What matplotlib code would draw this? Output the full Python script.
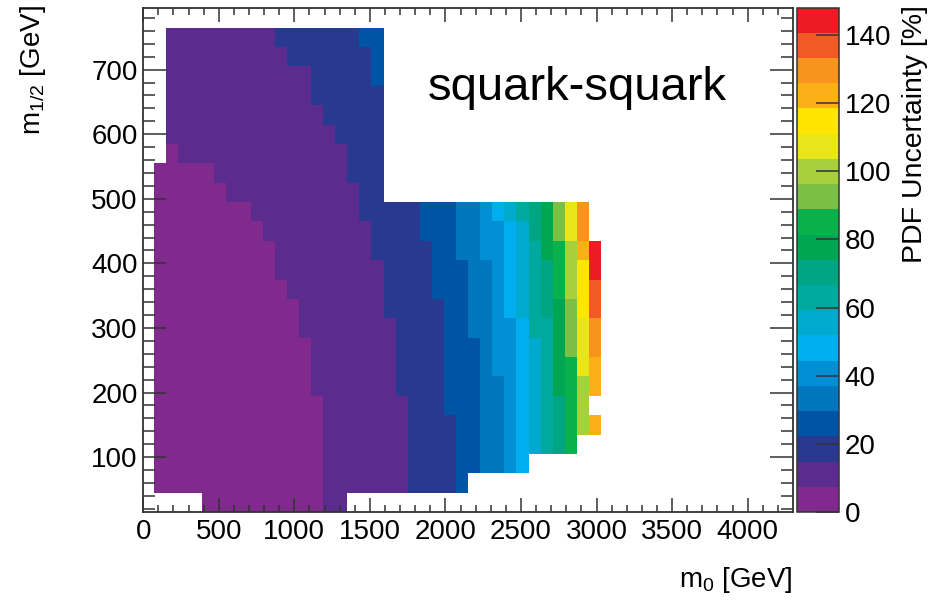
import numpy as np
import matplotlib
matplotlib.use("Agg")
from matplotlib import pyplot as plt
from matplotlib.colors import ListedColormap, BoundaryNorm

plt.rcParams['font.family'] = ['Liberation Sans', 'DejaVu Sans']
plt.rcParams['mathtext.fontset'] = 'custom'
plt.rcParams['mathtext.rm'] = 'Liberation Sans'
plt.rcParams['mathtext.it'] = 'Liberation Sans:italic'

# bin edges of the scan (GeV)
m0_edges = np.arange(70, 3040, 80)
m12_edges = np.arange(15, 780, 30)

# PDF uncertainty [%] per cell, rows from m1/2 = 750 (top) down to 30 (bottom)
n = np.nan
pdf_unc = [
    [n, 11, 11, 11, 11, 11, 11, 11, 11, 11, 18, 18, 18, 18, 18, 18, 18, 26, 26, n, n, n, n, n, n, n, n, n, n, n, n, n, n, n, n, n, n],
    [n, 11, 11, 11, 11, 11, 11, 11, 11, 11, 11, 18, 18, 18, 18, 18, 18, 18, 26, n, n, n, n, n, n, n, n, n, n, n, n, n, n, n, n, n, n],
    [n, 11, 11, 11, 11, 11, 11, 11, 11, 11, 11, 11, 11, 18, 18, 18, 18, 18, 26, n, n, n, n, n, n, n, n, n, n, n, n, n, n, n, n, n, n],
    [n, 11, 11, 11, 11, 11, 11, 11, 11, 11, 11, 11, 11, 18, 18, 18, 18, 18, 18, n, n, n, n, n, n, n, n, n, n, n, n, n, n, n, n, n, n],
    [n, 11, 11, 11, 11, 11, 11, 11, 11, 11, 11, 11, 11, 11, 18, 18, 18, 18, 18, n, n, n, n, n, n, n, n, n, n, n, n, n, n, n, n, n, n],
    [n, 11, 11, 11, 11, 11, 11, 11, 11, 11, 11, 11, 11, 11, 11, 18, 18, 18, 18, n, n, n, n, n, n, n, n, n, n, n, n, n, n, n, n, n, n],
    [n, 4, 11, 11, 11, 11, 11, 11, 11, 11, 11, 11, 11, 11, 11, 11, 18, 18, 18, n, n, n, n, n, n, n, n, n, n, n, n, n, n, n, n, n, n],
    [4, 4, 4, 4, 4, 11, 11, 11, 11, 11, 11, 11, 11, 11, 11, 11, 18, 18, 18, n, n, n, n, n, n, n, n, n, n, n, n, n, n, n, n, n, n],
    [4, 4, 4, 4, 4, 4, 11, 11, 11, 11, 11, 11, 11, 11, 11, 11, 11, 18, 18, n, n, n, n, n, n, n, n, n, n, n, n, n, n, n, n, n, n],
    [4, 4, 4, 4, 4, 4, 4, 4, 11, 11, 11, 11, 11, 11, 11, 11, 11, 18, 18, 18, 18, 18, 26, 26, 26, 33, 33, 41, 48, 56, 63, 70, 78, 92, 107, 130, n],
    [4, 4, 4, 4, 4, 4, 4, 4, 4, 11, 11, 11, 11, 11, 11, 11, 11, 11, 18, 18, 18, 18, 26, 26, 26, 33, 33, 41, 41, 48, 56, 70, 78, 92, 107, 130, n],
    [4, 4, 4, 4, 4, 4, 4, 4, 4, 4, 11, 11, 11, 11, 11, 11, 11, 11, 18, 18, 18, 18, 18, 26, 26, 33, 33, 41, 41, 48, 56, 63, 78, 85, 100, 122, 144],
    [4, 4, 4, 4, 4, 4, 4, 4, 4, 4, 11, 11, 11, 11, 11, 11, 11, 11, 11, 18, 18, 18, 18, 26, 26, 26, 33, 33, 41, 48, 56, 63, 70, 85, 100, 115, 144],
    [4, 4, 4, 4, 4, 4, 4, 4, 4, 4, 4, 11, 11, 11, 11, 11, 11, 11, 11, 18, 18, 18, 18, 26, 26, 26, 33, 33, 41, 48, 56, 63, 70, 85, 100, 115, 137],
    [4, 4, 4, 4, 4, 4, 4, 4, 4, 4, 4, 4, 11, 11, 11, 11, 11, 11, 11, 18, 18, 18, 18, 18, 26, 26, 33, 33, 41, 48, 56, 63, 70, 78, 92, 115, 137],
    [4, 4, 4, 4, 4, 4, 4, 4, 4, 4, 4, 4, 11, 11, 11, 11, 11, 11, 11, 11, 18, 18, 18, 18, 26, 26, 33, 33, 41, 41, 48, 63, 63, 78, 92, 107, 130],
    [4, 4, 4, 4, 4, 4, 4, 4, 4, 4, 4, 4, 4, 11, 11, 11, 11, 11, 11, 11, 18, 18, 18, 18, 26, 26, 26, 33, 41, 41, 48, 56, 63, 78, 92, 107, 130],
    [4, 4, 4, 4, 4, 4, 4, 4, 4, 4, 4, 4, 4, 11, 11, 11, 11, 11, 11, 11, 18, 18, 18, 18, 26, 26, 26, 33, 41, 41, 48, 56, 63, 78, 85, 107, 122],
    [4, 4, 4, 4, 4, 4, 4, 4, 4, 4, 4, 4, 4, 11, 11, 11, 11, 11, 11, 11, 18, 18, 18, 18, 26, 26, 26, 33, 33, 41, 48, 56, 63, 78, 85, 100, 122],
    [4, 4, 4, 4, 4, 4, 4, 4, 4, 4, 4, 4, 4, 4, 11, 11, 11, 11, 11, 11, 11, 18, 18, 18, 26, 26, 26, 33, 33, 41, 48, 56, 63, 70, 85, 100, n],
    [4, 4, 4, 4, 4, 4, 4, 4, 4, 4, 4, 4, 4, 4, 11, 11, 11, 11, 11, 11, 11, 18, 18, 18, 18, 26, 26, 33, 33, 41, 48, 56, 63, 70, 85, 100, 122],
    [4, 4, 4, 4, 4, 4, 4, 4, 4, 4, 4, 4, 4, 4, 11, 11, 11, 11, 11, 11, 11, 18, 18, 18, 18, 26, 26, 33, 33, 41, 48, 56, 63, 70, 85, n, n],
    [4, 4, 4, 4, 4, 4, 4, 4, 4, 4, 4, 4, 4, 4, 11, 11, 11, 11, 11, 11, 11, 18, 18, 18, 18, 26, 26, 33, 33, 41, 48, n, n, n, n, n, n],
    [4, 4, 4, 4, 4, 4, 4, 4, 4, 4, 4, 4, 4, 4, 11, 11, 11, 11, 11, 11, 11, 18, 18, 18, 18, 26, n, n, n, n, n, n, n, n, n, n, n],
    [n, n, n, n, 4, 4, 4, 4, 4, 4, 4, 4, 4, 4, 11, 11, n, n, n, n, n, n, n, n, n, n, n, n, n, n, n, n, n, n, n, n, n],
]

# palette: 20 levels between 0 and 148 %
palette = ['#7F2A8C', '#5B2C8E', '#2A3990', '#0054A5', '#0076BE',
           '#008FD5', '#00AEEF', '#00A9CE', '#00A99D', '#00A683',
           '#00A651', '#0AB04B', '#7AC143', '#A8CF3C', '#E8E51A',
           '#FFE500', '#FBB01A', '#F7941D', '#F15A24', '#ED1C24']
z_max = 148
cbar_ticks = [0, 20, 40, 60, 80, 100, 120, 140]

cmap = ListedColormap(palette)
cmap.set_bad('white')
norm = BoundaryNorm(np.linspace(0, z_max, len(palette) + 1), cmap.N)

z = np.ma.masked_invalid(np.array(pdf_unc, dtype=float)[::-1])

fig = plt.figure(figsize=(9.4, 6.03), dpi=100)
ax = fig.add_axes([0.1524, 0.1509, 0.6912, 0.8353])
cax = fig.add_axes([0.8479, 0.1509, 0.0447, 0.8365])

mesh = ax.pcolormesh(m0_edges, m12_edges, z, cmap=cmap, norm=norm)
ax.set_xlim(0, 4300)
ax.set_ylim(15, 795)

ax.set_xticks(np.arange(0, 4001, 500))
ax.set_xticks(np.arange(0, 4300, 100), minor=True)
ax.set_yticks(np.arange(100, 701, 100))
ax.set_yticks(np.arange(20, 795, 20), minor=True)

frame_col = '#333333'
ax.tick_params(which='both', direction='in', top=True, right=True,
               color=frame_col, labelsize=20, width=1.1)
ax.tick_params(axis='x', which='major', length=10, pad=5)
ax.tick_params(axis='x', which='minor', length=5)
ax.tick_params(axis='y', which='major', length=16.5, pad=4)
ax.tick_params(axis='y', which='minor', length=8.5)
for s in ax.spines.values():
    s.set_color(frame_col)
    s.set_linewidth(1.3)

ax.set_xlabel(r'm$_{0}$ [GeV]', fontsize=20, loc='right')
ax.xaxis.set_label_coords(1.0, -0.105)
ax.set_ylabel(r'm$_{1/2}$ [GeV]', fontsize=20, loc='top')
ax.yaxis.set_label_coords(-0.147, 1.006)

ax.text(0.438, 0.818, 'squark-squark', transform=ax.transAxes,
        fontsize=34, ha='left', va='baseline')

cb = fig.colorbar(mesh, cax=cax, ticks=cbar_ticks)
cb.outline.set_edgecolor(frame_col)
cb.outline.set_linewidth(1.1)
cax.tick_params(direction='in', length=16.5, width=1.1, color=frame_col,
                labelsize=20, pad=4)
cax.minorticks_off()
fig.text(928 / 940, 1 - 5 / 603, 'PDF Uncertainty [%]', fontsize=20.5,
         rotation=90, rotation_mode='anchor', ha='right', va='bottom')

fig.savefig('out.png', dpi=100)
